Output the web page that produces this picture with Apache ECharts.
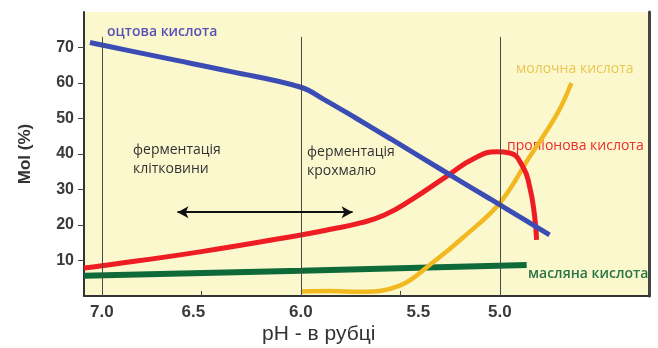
<!DOCTYPE html>
<html>
<head>
<meta charset="utf-8">
<script src="https://cdn.jsdelivr.net/npm/echarts@6/dist/echarts.min.js"></script>
<style>
html,body{margin:0;padding:0;background:#fff;}
#c{width:658px;height:348px;}
</style>
</head>
<body>
<div id="c"></div>
<script>
// ---- data (pH, mol %) ----
const xTickLabels = [7.0, 6.5, 6.0, 5.5, 5.0];
const xMinorTicks = [6.5, 5.5];
const yTickLabels = [10, 20, 30, 40, 50, 60, 70];
const refLinesPH = [7.0, 6.0, 5.0];

const aceticName = 'оцтова кислота';
const acetic = [[7.06, 71.4], [7.0, 70.7], [6.68, 67.0], [6.35, 63.2], [6.0, 58.8], [5.885, 55.4], [5.72, 50.0], [5.55, 44.3], [5.385, 38.7], [5.217, 33.0], [5.05, 27.4], [4.87, 21.3], [4.75, 17.2]];

const propionicName = 'пропіонова кислота';
const propionic = [[7.09, 7.9], [7.0, 8.5], [6.5, 12.5], [6.0, 17.2], [5.85, 18.8], [5.7, 20.6], [5.58, 22.8], [5.447, 27.0], [5.26, 34.0], [5.127, 38.8], [5.017, 40.6], [4.95, 40.3], [4.884, 36.4], [4.85, 30.8], [4.826, 23.0], [4.815, 15.8]];

const lacticName = 'молочна кислота';
const lactic = [[6.0, 1.3], [5.85, 1.4], [5.7, 1.2], [5.5, 3.0], [5.34, 9.3], [5.18, 16.7], [5.0, 26.2], [4.85, 39.2], [4.71, 51.5], [4.64, 60.0]];

const butyricName = 'масляна кислота';
const butyric = [[7.09, 5.7], [6.0, 7.1], [4.865, 8.7]];

const arrowFrom = [6.62, 23.6];
const arrowTo = [5.74, 23.6];

const chart = echarts.init(document.getElementById('c'), null, {renderer: 'canvas'});

const grid = {left: 84, right: 9, top: 12, bottom: 52, show: true, backgroundColor: '#fcf8ce', borderWidth: 0};
const lblFont = 'Liberation Sans, Arial';

chart.setOption({
  animation: false,
  backgroundColor: '#ffffff',
  grid: grid,
  xAxis: {
    type: 'value', inverse: true, min: 4.25, max: 7.09,
    axisLine: {show: true, onZero: false, lineStyle: {color: '#333', width: 2}},
    axisTick: {show: true, customValues: xMinorTicks, inside: true, length: 5, lineStyle: {color: '#444'}},
    splitLine: {show: false},
    axisLabel: {
      customValues: xTickLabels, margin: 8,
      formatter: function (v) {
        const s = v.toFixed(1);
        if (Math.abs(v - 6.5) < 1e-6) return '{l|' + s + '}';
        if (Math.abs(v - 5.5) < 1e-6) return '{r|' + s + '}';
        return s;
      },
      color: '#3a3a3a', fontWeight: 'bold', fontSize: 17, fontFamily: lblFont,
      rich: {
        l: {padding: [0, 16, 0, 0], color: '#3a3a3a', fontWeight: 'bold', fontSize: 17, fontFamily: lblFont},
        r: {padding: [0, 0, 0, 36], color: '#3a3a3a', fontWeight: 'bold', fontSize: 17, fontFamily: lblFont}
      }
    }
  },
  yAxis: [{
    type: 'value', min: 0, max: 80,
    axisLine: {show: true, lineStyle: {color: '#333', width: 2}},
    axisTick: {show: true, customValues: yTickLabels, length: 6, lineStyle: {color: '#444'}},
    splitLine: {show: false},
    axisLabel: {customValues: yTickLabels, margin: 10, color: '#3a3a3a', fontWeight: 'bold', fontSize: 16, fontFamily: lblFont}
  }, {
    type: 'value', min: 0, max: 80, position: 'right',
    axisLine: {show: true, lineStyle: {color: '#444', width: 3}},
    axisTick: {show: false}, axisLabel: {show: false}, splitLine: {show: false}
  }],
  series: [
    {
      type: 'line', name: 'ref', data: [], silent: true,
      markLine: {
        silent: true, symbol: ['none', 'none'], label: {show: false},
        lineStyle: {color: '#4a4a4a', width: 1, type: 'solid'},
        data: refLinesPH.map(p => [{coord: [p, 0]}, {coord: [p, 73]}])
      }
    },
    {
      type: 'line', name: 'arrow', data: [], silent: true,
      markLine: {
        silent: true, symbol: ['arrow', 'arrow'], symbolSize: [9, 11], label: {show: false},
        lineStyle: {color: '#111', width: 2, type: 'solid'},
        data: [[{coord: arrowFrom}, {coord: arrowTo}]]
      }
    },
    {type: 'line', name: butyricName, data: butyric, smooth: true, showSymbol: false, lineStyle: {color: '#0f6a3a', width: 6}},
    {type: 'line', name: lacticName, data: lactic, smooth: 0.4, showSymbol: false, lineStyle: {color: '#f1b820', width: 4.5}},
    {type: 'line', name: propionicName, data: propionic, smooth: 0.5, showSymbol: false, lineStyle: {color: '#ee1d24', width: 5}},
    {type: 'line', name: aceticName, data: acetic, smooth: 0.4, showSymbol: false, lineStyle: {color: '#3b4db4', width: 5}}
  ],
  graphic: [
    {type: 'text', left: 107, top: 25, style: {text: aceticName, fill: '#5652b4', font: '600 14px "Open Sans", "Liberation Sans", Arial'}},
    {type: 'text', left: 516, top: 62, style: {text: lacticName, fill: '#e6bd3a', font: '14px "Open Sans", "Liberation Sans", Arial', opacity: 0.85}},
    {type: 'text', left: 507, top: 139, style: {text: propionicName, fill: '#ee2c2c', font: '14px "Open Sans", "Liberation Sans", Arial'}},
    {type: 'text', left: 528, top: 267, style: {text: butyricName, fill: '#2a7446', font: '600 14px "Open Sans", "Liberation Sans", Arial'}},
    {type: 'text', left: 133, top: 141, style: {text: 'ферментація\nклітковини', fill: '#333', font: '14px "Open Sans", "Liberation Sans", Arial', lineHeight: 19}},
    {type: 'text', left: 307, top: 143, style: {text: 'ферментація\nкрохмалю', fill: '#333', font: '14px "Open Sans", "Liberation Sans", Arial', lineHeight: 19}},
    {type: 'text', left: 262, top: 324, style: {text: 'pH - в рубці', fill: '#333', font: '21px "Liberation Sans", Arial'}},
    {type: 'text', x: 25, y: 154, rotation: Math.PI / 2, style: {text: 'Mol (%)', fill: '#333', font: 'bold 17px "Liberation Sans", Arial', align: 'center', verticalAlign: 'middle'}}
  ]
});
</script>
</body>
</html>
